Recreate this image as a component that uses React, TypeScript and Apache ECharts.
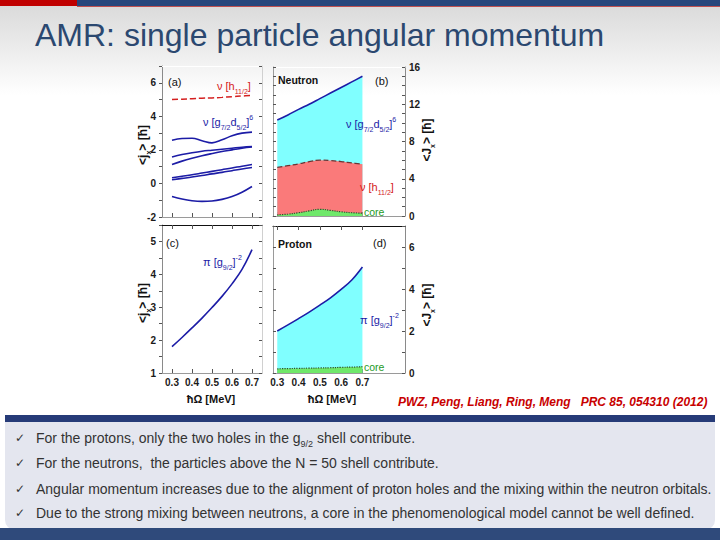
import React, { useEffect, useRef } from "react";
import * as echarts from "echarts";

// ---------- data ----------
const omega = [0.3, 0.35, 0.4, 0.45, 0.5, 0.55, 0.6, 0.65, 0.7];
// panel (a): single neutron <jx>
const nuH11 = [5.0, 5.02, 5.05, 5.08, 5.1, 5.13, 5.17, 5.21, 5.25];
const nuG1 = [2.58, 2.68, 2.69, 2.55, 2.42, 2.6, 2.84, 3.0, 3.06];
const nuG2 = [1.58, 1.72, 1.83, 1.92, 1.98, 2.04, 2.1, 2.16, 2.2];
const nuG3 = [1.13, 1.33, 1.5, 1.65, 1.78, 1.9, 2.0, 2.1, 2.17];
const nuG4 = [0.34, 0.43, 0.52, 0.62, 0.72, 0.82, 0.92, 1.03, 1.13];
const nuG5 = [0.22, 0.3, 0.38, 0.47, 0.57, 0.66, 0.76, 0.86, 0.95];
const nuG6 = [-0.78, -0.93, -1.03, -1.07, -1.05, -0.95, -0.78, -0.52, -0.18];
// panel (b): neutron <Jx> bands (core, h11/2, g7/2 d5/2)
const neutronCore = [0.12, 0.2, 0.35, 0.55, 0.72, 0.6, 0.45, 0.35, 0.3];
const neutronH11Band = [5.1, 5.2, 5.25, 5.3, 5.28, 5.35, 5.4, 5.35, 5.27];
const neutronGBand = [5.08, 5.45, 5.85, 6.15, 6.6, 7.25, 7.95, 8.7, 9.43];
// panel (c): proton holes <jx>
const piG92 = [1.8, 2.08, 2.37, 2.67, 2.99, 3.33, 3.71, 4.15, 4.75];
// panel (d): proton <Jx> bands (core, g9/2 holes)
const protonCore = [0.2, 0.21, 0.22, 0.23, 0.24, 0.25, 0.27, 0.28, 0.3];
const protonPiBand = [1.8, 2.08, 2.37, 2.67, 2.99, 3.33, 3.71, 4.15, 4.75];

// ---------- tick labels ----------
const xTicks = [0.3, 0.4, 0.5, 0.6, 0.7];
const aYLabels = [-2, 0, 2, 4, 6];
const aYTicks = [-2, -1, 0, 1, 2, 3, 4, 5, 6, 7];
const bYLabels = [0, 4, 8, 12, 16];
const bYTicks = [0, 1, 2, 3, 4, 5, 6, 7, 8, 9, 10, 11, 12, 13, 14, 15, 16];
const cYLabels = [1, 2, 3, 4, 5];
const cYTicks = [1, 1.5, 2, 2.5, 3, 3.5, 4, 4.5, 5, 5.5];
const dYLabels = [0, 2, 4, 6];
const dYTicks = [0, 1, 2, 3, 4, 5, 6, 7];

const bullets = [
  "{n|For the protons, only the two holes in the g}{s|9/2}{n| shell contribute.}",
  "{n|For the neutrons,  the particles above the N = 50 shell contribute.}",
  "{n|Angular momentum increases due to the alignment of proton holes and the mixing within the neutron orbitals.}",
  "{n|Due to the strong mixing between neutrons, a core in the phenomenological model cannot be well defined.}",
];

const FONT = '"Liberation Sans", Arial, Helvetica, sans-serif';
const BLUE = "#1c1ca6";
const RED = "#d42020";
const GREEN = "#1e9a1e";

// cumulative band tops (stacking done here)
function cumulate(...bands: number[][]) {
  return omega.map((_, i) => bands.reduce((s, b) => s + b[i], 0));
}

function xAxisDef(g: number, pos: string, min: number, max: number, showLabels: boolean, lineColor: string) {
  return {
    type: "value",
    gridIndex: g,
    position: pos,
    min,
    max,
    axisLine: { show: true, onZero: false, lineStyle: { color: lineColor, width: 1 } },
    axisTick: { show: true, inside: true, length: 4, customValues: xTicks, lineStyle: { color: "#555", width: 1 } },
    axisLabel: {
      show: showLabels,
      customValues: xTicks,
      formatter: (v: number) => v.toFixed(1),
      color: "#1a1a1a",
      fontSize: 10,
      fontWeight: "bold",
      fontFamily: FONT,
      margin: 4,
    },
    splitLine: { show: false },
  };
}

function yAxisDef(
  g: number,
  pos: string,
  min: number,
  max: number,
  labels: number[] | null,
  ticks: number[],
  inside: boolean,
  lineColor: string,
  margin: number
) {
  return {
    type: "value",
    gridIndex: g,
    position: pos,
    min,
    max,
    axisLine: { show: true, onZero: false, lineStyle: { color: lineColor, width: 1 } },
    axisTick: { show: true, inside, length: 3, customValues: ticks, lineStyle: { color: "#555", width: 1 } },
    axisLabel: {
      show: !!labels,
      customValues: labels || ticks,
      color: "#1a1a1a",
      fontSize: 10,
      fontWeight: "bold",
      fontFamily: FONT,
      margin,
    },
    splitLine: { show: false },
  };
}

function pairs(values: number[]) {
  return omega.map((x, i) => [x, values[i]]);
}

function lineSeries(xi: number, yi: number, values: number[], color: string, type: string, width: number) {
  return {
    type: "line",
    xAxisIndex: xi,
    yAxisIndex: yi,
    data: pairs(values),
    smooth: 0.4,
    symbol: "none",
    silent: true,
    lineStyle: { color, width, type },
  };
}

function areaSeries(xi: number, yi: number, values: number[], fill: string, lineColor: string, type: string, width: number) {
  return {
    type: "line",
    xAxisIndex: xi,
    yAxisIndex: yi,
    data: pairs(values),
    smooth: 0.4,
    symbol: "none",
    silent: true,
    lineStyle: { color: lineColor, width, type },
    areaStyle: { color: fill, opacity: 1, origin: "start" },
  };
}

function richDef(color: string, size: number, weight: string) {
  return {
    n: { fontSize: size, fontFamily: FONT, fontWeight: weight, fill: color, color, lineHeight: size + 6 },
    s: { fontSize: Math.round(size * 0.62), fontFamily: FONT, fontWeight: weight, fill: color, color, lineHeight: 8, verticalAlign: "bottom" },
    p: { fontSize: Math.round(size * 0.62), fontFamily: FONT, fontWeight: weight, fill: color, color, lineHeight: 8, verticalAlign: "top" },
  };
}

function note(x: number, y: number, text: string, color: string, size = 10.5, weight = "normal", rotation = 0, align = "left") {
  return {
    type: "text",
    x,
    y,
    rotation,
    z: 100,
    style: {
      text,
      rich: richDef(color, size, weight),
      align,
      textAlign: align,
      verticalAlign: "middle",
      textVerticalAlign: "middle",
      fill: color,
    },
  };
}

function plain(x: number, y: number, text: string, font: string, fill: string, align = "left") {
  return {
    type: "text",
    x,
    y,
    z: 100,
    style: { text, font, fill, align, textAlign: align, verticalAlign: "middle", textVerticalAlign: "middle" },
  };
}

export default function App() {
  const ref = useRef<HTMLDivElement>(null);

  useEffect(() => {
    if (!ref.current) return;
    const chart = echarts.init(ref.current, undefined, { renderer: "svg" });

    const grids = [
      { left: 162, top: 66, width: 100, height: 151 },
      { left: 273, top: 67, width: 132, height: 149 },
      { left: 162, top: 225, width: 100, height: 148 },
      { left: 273, top: 226, width: 132, height: 147 },
    ].map((g) => ({ ...g, outerBoundsMode: "none", containLabel: false, show: false }));

    const xAxis = [
      xAxisDef(0, "bottom", 0.25, 0.75, false, "#9a9a9a"),
      { ...xAxisDef(0, "top", 0.25, 0.75, false, "#ffffff"), axisTick: { show: false } },
      xAxisDef(1, "bottom", 0.28, 0.9, false, "#9a9a9a"),
      { ...xAxisDef(1, "top", 0.28, 0.9, false, "#ffffff"), axisTick: { show: false } },
      xAxisDef(2, "bottom", 0.25, 0.75, true, "#9a9a9a"),
      xAxisDef(2, "top", 0.25, 0.75, false, "#111111"),
      xAxisDef(3, "bottom", 0.28, 0.9, true, "#9a9a9a"),
      xAxisDef(3, "top", 0.28, 0.9, false, "#111111"),
    ];

    const yAxis = [
      yAxisDef(0, "left", -2, 7, aYLabels, aYTicks, false, "#8a8a8a", 6),
      yAxisDef(0, "right", -2, 7, null, aYTicks, true, "#d0d0d0", 4),
      yAxisDef(1, "left", 0, 16, null, bYTicks, true, "#9a9a9a", 4),
      yAxisDef(1, "right", 0, 16, bYLabels, bYTicks, true, "#8a8a8a", 4),
      yAxisDef(2, "left", 1, 5.5, cYLabels, cYTicks, false, "#8a8a8a", 6),
      yAxisDef(2, "right", 1, 5.5, null, cYTicks, true, "#d0d0d0", 4),
      yAxisDef(3, "left", 0, 7, null, dYTicks, true, "#9a9a9a", 4),
      yAxisDef(3, "right", 0, 7, dYLabels, dYTicks, true, "#8a8a8a", 4),
    ];

    const nTotal = cumulate(neutronCore, neutronH11Band, neutronGBand);
    const nRedTop = cumulate(neutronCore, neutronH11Band);
    const pTotal = cumulate(protonCore, protonPiBand);

    const series = [
      // (a)
      lineSeries(0, 0, nuH11, RED, "dashed", 1.5),
      lineSeries(0, 0, nuG1, BLUE, "solid", 1.6),
      lineSeries(0, 0, nuG2, BLUE, "solid", 1.6),
      lineSeries(0, 0, nuG3, BLUE, "solid", 1.6),
      lineSeries(0, 0, nuG4, BLUE, "solid", 1.6),
      lineSeries(0, 0, nuG5, BLUE, "solid", 1.6),
      lineSeries(0, 0, nuG6, BLUE, "solid", 1.6),
      // (b) bands drawn back-to-front
      areaSeries(2, 3, nTotal, "#80ffff", BLUE, "solid", 1.6),
      areaSeries(2, 3, nRedTop, "#fa7a7a", "#6a3434", "dashed", 1.3),
      areaSeries(2, 3, neutronCore, "#6fe86a", "#2f4f2f", "dotted", 1.2),
      // (c)
      lineSeries(4, 4, piG92, BLUE, "solid", 1.6),
      // (d)
      areaSeries(6, 7, pTotal, "#80ffff", BLUE, "solid", 1.6),
      areaSeries(6, 7, protonCore, "#6fe86a", "#2f4f2f", "dotted", 1.2),
    ];

    const graphic: any[] = [
      // slide background
      {
        type: "rect",
        z: -10,
        shape: { x: 0, y: 0, width: 720, height: 95 },
        style: {
          fill: new echarts.graphic.LinearGradient(0, 0, 0, 1, [
            { offset: 0, color: "#d8d8d8" },
            { offset: 1, color: "#ffffff" },
          ]),
        },
      },
      { type: "rect", z: -5, shape: { x: 0, y: 0, width: 77, height: 6 }, style: { fill: "#c00000" } },
      { type: "rect", z: -5, shape: { x: 77, y: 0, width: 643, height: 6 }, style: { fill: "#27467c" } },
      { type: "rect", z: -5, shape: { x: 77, y: 6, width: 643, height: 1 }, style: { fill: "#c05050" } },
      plain(35, 35, "AMR: single particle angular momentum", `32px ${FONT}`, "#2b4870"),
      // bottom box
      { type: "rect", z: -5, shape: { x: 5, y: 416, width: 710, height: 114, r: [0, 0, 10, 10] }, style: { fill: "#e4e6ef" } },
      { type: "rect", z: -4, shape: { x: 5, y: 415, width: 710, height: 7 }, style: { fill: "#263b78" } },
      { type: "rect", z: -4, shape: { x: 0, y: 528, width: 720, height: 12 }, style: { fill: "#2f4a7b" } },
      plain(398, 402, "PWZ, Peng, Liang, Ring, Meng   PRC 85, 054310 (2012)", `italic bold 12px ${FONT}`, "#c80000"),
      // panel annotations
      note(168, 82, "{n|(a)}", "#111111", 11),
      note(217, 86, "{n|ν [h}{s|11/2}{n|]}", RED, 11),
      note(203, 122, "{n|ν [g}{s|7/2}{n|d}{s|5/2}{n|]}{p|6}", BLUE, 11),
      note(278, 80, "{n|Neutron}", "#111111", 10.5, "bold"),
      note(375, 81, "{n|(b)}", "#111111", 11),
      note(346, 124, "{n|ν [g}{s|7/2}{n|d}{s|5/2}{n|]}{p|6}", BLUE, 11),
      note(360, 187, "{n|ν [h}{s|11/2}{n|]}", RED, 11),
      note(364, 212, "{n|core}", GREEN, 10.5),
      note(166, 243, "{n|(c)}", "#111111", 11),
      note(203, 262, "{n|π [g}{s|9/2}{n|]}{p|-2}", BLUE, 11),
      note(278, 244, "{n|Proton}", "#111111", 10.5, "bold"),
      note(373, 243, "{n|(d)}", "#111111", 11),
      note(360, 320, "{n|π [g}{s|9/2}{n|]}{p|-2}", BLUE, 11),
      note(364, 367, "{n|core}", GREEN, 10.5),
      // axis names
      note(143, 145, "{n|<j}{s|x}{n|> [ħ]}", "#111111", 12, "bold", Math.PI / 2, "center"),
      note(143, 303, "{n|<j}{s|x}{n|> [ħ]}", "#111111", 12, "bold", Math.PI / 2, "center"),
      note(427, 140, "{n|<J}{s|x}{n|> [ħ]}", "#111111", 12, "bold", Math.PI / 2, "center"),
      note(427, 305, "{n|<J}{s|x}{n|> [ħ]}", "#111111", 12, "bold", Math.PI / 2, "center"),
      plain(211, 399, "ħΩ [MeV]", `bold 11px ${FONT}`, "#111111", "center"),
      plain(332, 399, "ħΩ [MeV]", `bold 11px ${FONT}`, "#111111", "center"),
    ];

    const bulletY = [438, 463, 489, 513];
    bullets.forEach((t, i) => {
      graphic.push(plain(15, bulletY[i], "✓", `12px "DejaVu Sans", sans-serif`, "#333333"));
      graphic.push(note(36, bulletY[i], t, "#333333", 14));
    });

    chart.setOption({
      animation: false,
      backgroundColor: "#ffffff",
      grid: grids,
      xAxis,
      yAxis,
      series,
      graphic,
    });

    return () => chart.dispose();
  }, []);

  return <div ref={ref} style={{ position: "fixed", left: 0, top: 0, width: 720, height: 540 }} />;
}
